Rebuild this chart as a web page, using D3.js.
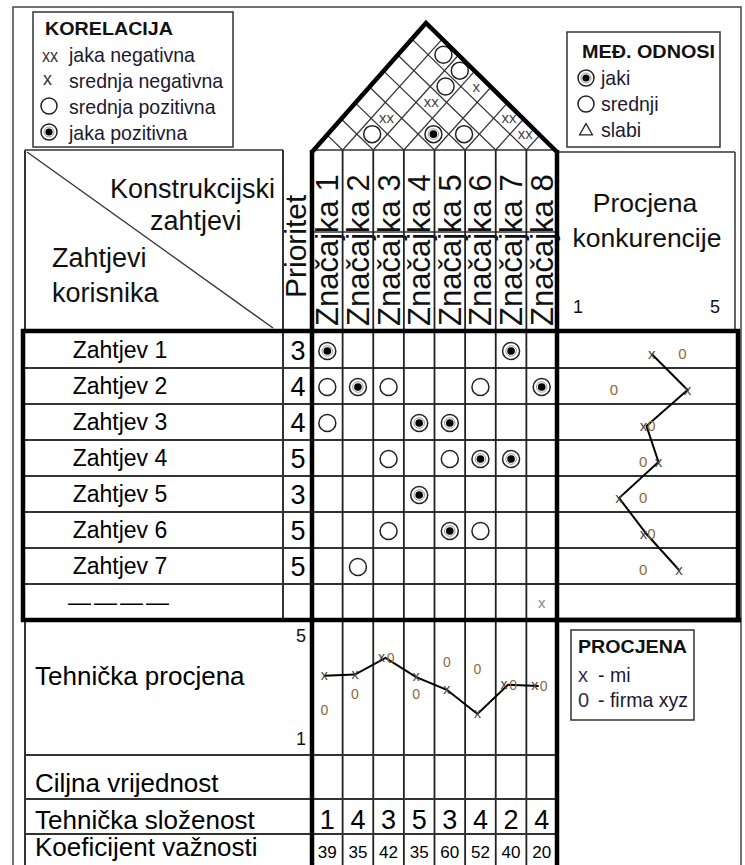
<!DOCTYPE html>
<html lang="hr">
<head>
<meta charset="UTF-8">
<title>Kuća kvalitete</title>
<script src="https://d3js.org/d3.v7.min.js"></script>
<style>
  body { margin: 0; background: #fff; }
  svg { display: block; font-family: "Liberation Sans", Arial, sans-serif; }
</style>
</head>
<body>
<svg id="hoq" width="745" height="865"></svg>
<script>
const features = ["Značajka 1", "Značajka 2", "Značajka 3", "Značajka 4",
                  "Značajka 5", "Značajka 6", "Značajka 7", "Značajka 8"];
const requirements = ["Zahtjev 1", "Zahtjev 2", "Zahtjev 3", "Zahtjev 4",
                      "Zahtjev 5", "Zahtjev 6", "Zahtjev 7", "————"];
const priorities = [3, 4, 4, 5, 3, 5, 5, null];

// [requirement, feature, strength]
const relations = [
  [0, 0, "jaki"], [0, 6, "jaki"],
  [1, 0, "srednji"], [1, 1, "jaki"], [1, 2, "srednji"], [1, 5, "srednji"], [1, 7, "jaki"],
  [2, 0, "srednji"], [2, 3, "jaki"], [2, 4, "jaki"],
  [3, 2, "srednji"], [3, 4, "srednji"], [3, 5, "jaki"], [3, 6, "jaki"],
  [4, 3, "jaki"],
  [5, 2, "srednji"], [5, 4, "jaki"], [5, 5, "srednji"],
  [6, 1, "srednji"],
  [7, 7, "x"]
];

// roof: [feature a, feature b, correlation]
const correlations = [
  [1, 7, "srednja pozitivna"], [2, 7, "srednja pozitivna"], [3, 7, "srednja negativna"],
  [2, 6, "srednja pozitivna"], [2, 5, "jaka negativna"], [1, 3, "jaka negativna"],
  [5, 7, "jaka negativna"], [6, 7, "jaka negativna"], [1, 2, "srednja pozitivna"],
  [3, 4, "jaka pozitivna"], [4, 5, "srednja pozitivna"]
];

// competitive assessment per requirement (1..5)
const compMi  = [3.15, 4.2, 3.0, 3.35, 2.2, 3.0, 3.95];
const compXyz = [4.05, 2.05, 3.0, 2.9, 2.9, 3.0, 2.9];

// technical assessment per feature (1..5)
const techMi  = [3.4, 3.45, 4.1, 3.35, 2.85, 1.9, 3.05, 3.0];
const techXyz = [2.05, 2.7, 4.1, 2.7, 3.95, 3.65, 3.05, 3.0];

const complexity = [1, 4, 3, 5, 3, 4, 2, 4];
const importance = [39, 35, 42, 35, 60, 52, 40, 20];

const corrLegend = [["xx", "jaka negativna"], ["x", "srednja negativna"],
                    ["o", "srednja pozitivna"], ["oo", "jaka pozitivna"]];
const relLegend = [["jaki", "jaki"], ["srednji", "srednji"], ["slabi", "slabi"]];
const bottomRows = ["Tehnička procjena", "Ciljna vrijednost", "Tehnička složenost", "Koeficijent važnosti"];

const svg = d3.select("#hoq");

const x = d3.scaleBand().domain(d3.range(features.length)).range([312, 557]);
const y = d3.scaleBand().domain(d3.range(requirements.length)).range([332, 620]);
const compX = d3.scaleLinear().domain([1, 5]).range([578, 715]);
const techY = d3.scaleLinear().domain([1, 5]).range([737, 635]);
const cx = i => x(i) + x.bandwidth() / 2;
const cy = i => y(i) + y.bandwidth() / 2;

function line(x1, y1, x2, y2, w, c) {
  svg.append("line").attr("x1", x1).attr("y1", y1).attr("x2", x2).attr("y2", y2)
    .attr("stroke", c || "#222").attr("stroke-width", w || 1.5);
}
function text(tx, ty, s, size, opts) {
  opts = opts || {};
  const t = svg.append("text").attr("x", tx).attr("y", ty)
    .attr("font-size", size).attr("fill", opts.fill || "#111")
    .attr("text-anchor", opts.anchor || "start")
    .attr("font-weight", opts.bold ? "bold" : "normal")
    .text(s);
  if (opts.len) t.attr("textLength", opts.len).attr("lengthAdjust", "spacingAndGlyphs");
  // narrow look of the legend lettering
  if (opts.squeeze) t.attr("textLength", t.node().getComputedTextLength() * opts.squeeze)
    .attr("lengthAdjust", "spacingAndGlyphs");
  return t;
}
function symbol(px, py, kind, r) {
  r = r || 8;
  if (kind === "jaki" || kind === "jaka pozitivna") {
    svg.append("circle").attr("cx", px).attr("cy", py).attr("r", r)
      .attr("fill", "#fff").attr("stroke", "#222").attr("stroke-width", 1.5);
    svg.append("circle").attr("cx", px).attr("cy", py).attr("r", r * 0.62)
      .attr("fill", "none").attr("stroke", "#999").attr("stroke-width", 1);
    svg.append("circle").attr("cx", px).attr("cy", py).attr("r", r * 0.45).attr("fill", "#000");
  } else if (kind === "srednji" || kind === "srednja pozitivna") {
    svg.append("circle").attr("cx", px).attr("cy", py).attr("r", r)
      .attr("fill", "#fff").attr("stroke", "#222").attr("stroke-width", 1.5);
  } else if (kind === "slabi") {
    svg.append("path")
      .attr("d", `M${px},${py - r * 0.8}L${px + r * 0.8},${py + r * 0.6}L${px - r * 0.8},${py + r * 0.6}Z`)
      .attr("fill", "none").attr("stroke", "#222").attr("stroke-width", 1.3);
  } else {
    const s = kind === "jaka negativna" ? "xx" : "x";
    text(px, py + 5, s, 15, { anchor: "middle", fill: kind === "x" ? "#888" : "#444" });
  }
}

// outer frame
svg.append("rect").attr("x", 13).attr("y", 7).attr("width", 728).attr("height", 880)
  .attr("fill", "none").attr("stroke", "#444").attr("stroke-width", 1.5);

// ---- KORELACIJA legend
svg.append("rect").attr("x", 33).attr("y", 12).attr("width", 200).attr("height", 135)
  .attr("fill", "#fff").attr("stroke", "#333").attr("stroke-width", 1.5);
text(45, 35, "KORELACIJA", 19, { bold: true, len: 128 });
corrLegend.forEach(([k, lab], i) => {
  const by = 62 + i * 26;
  if (k === "xx") text(42, by, "xx", 18, { fill: "#333", squeeze: 0.9 });
  else if (k === "x") text(43, by - 3, "x", 18, { fill: "#333" });
  else symbol(49, by - 8, k === "o" ? "srednja pozitivna" : "jaka pozitivna", 8);
  text(69, by, lab, 21, { fill: "#1c1830", squeeze: 0.93 });
});

// ---- MEĐ. ODNOSI legend
svg.append("rect").attr("x", 567).attr("y", 32).attr("width", 153).attr("height", 115)
  .attr("fill", "#fff").attr("stroke", "#333").attr("stroke-width", 1.5);
text(582, 58, "MEĐ. ODNOSI", 19, { bold: true, len: 133 });
relLegend.forEach(([k, lab], i) => {
  const by = 85 + i * 26;
  symbol(586, by - 7, k, 8);
  text(601, by, lab, 21, { fill: "#1c1830", squeeze: 0.93 });
});

// ---- roof
const apex = [426, 23], base = 150;
const L = [x(0), base], R = [x(features.length - 1) + x.bandwidth(), base];
const n = features.length;
const A = [(apex[0] - L[0]) / n, (apex[1] - L[1]) / n];   // up-right
const C = [(R[0] - apex[0]) / n, (R[1] - apex[1]) / n];   // down-right
const P = (p, q) => [L[0] + p * A[0] + q * C[0], L[1] + p * A[1] + q * C[1]];
for (let k = 1; k < n; k++) {
  const a = P(k, k), b = P(n, k), c = P(k, 0);
  line(a[0], a[1], b[0], b[1], 1.2, "#333");
  line(a[0], a[1], c[0], c[1], 1.2, "#333");
}
line(L[0], base, R[0], base, 1.5, "#333");
correlations.forEach(([i, j, kind]) => {
  const pt = P(j + 0.5, i + 0.5);
  symbol(pt[0], pt[1], kind, 8.5);
});
svg.append("path").attr("d", `M${L[0]},${L[1] + 2}L${apex[0]},${apex[1]}L${R[0]},${R[1] + 2}`)
  .attr("fill", "none").attr("stroke", "#000").attr("stroke-width", 4.5);

// ---- header
line(25, 150, 283, 150, 1.5, "#333");
line(25, 150, 25, 332, 2, "#333");
line(27, 152, 273, 328, 1.3, "#333");
text(110, 198, "Konstrukcijski", 27, { len: 165 });
text(150, 230, "zahtjevi", 27);
text(52, 267, "Zahtjevi", 27);
text(52, 302, "korisnika", 27);
line(283, 150, 283, 620, 2, "#333");
text(0, 0, "Prioritet", 30).attr("transform", "translate(306,298) rotate(-90)");

x.domain().forEach(i => {
  text(0, 0, features[i], 31).attr("transform", `translate(${cx(i) + 11},326) rotate(-90)`);
});
line(312, 232, 557, 232, 1.3, "#333");

// right header
line(557, 152, 735, 152, 1.5, "#333");
line(735, 152, 735, 332, 1.5, "#333");
text(645, 212, "Procjena", 26.5, { anchor: "middle" });
text(647, 247, "konkurencije", 26.5, { anchor: "middle" });
text(compX(1), 313, "1", 18, { anchor: "middle" });
text(compX(5), 313, "5", 18, { anchor: "middle" });

// ---- matrix rows
y.domain().forEach(r => {
  if (r > 0) line(25, y(r), 738, y(r), 1.8, "#333");
  text(120, cy(r) + 8, requirements[r], 23, { anchor: "middle", fill: "#000" })
    .attr("letter-spacing", r === requirements.length - 1 ? 3 : 0);
  if (priorities[r] != null) text(298, cy(r) + 10, priorities[r], 27, { anchor: "middle", fill: "#000" });
});

// columns
for (let i = 1; i < n; i++) line(x(i), 150, x(i), 865, 1.8, "#222");

relations.forEach(([r, c, kind]) => symbol(cx(c), cy(r) + 1, kind, 8.5));

// competitive assessment
const compLine = d3.line().x(d => compX(d[0])).y(d => d[1]);
svg.append("path")
  .attr("d", compLine(compMi.map((v, i) => [v, cy(i) + 4])))
  .attr("fill", "none").attr("stroke", "#000").attr("stroke-width", 2);
compMi.forEach((v, i) => {
  const same = Math.abs(v - compXyz[i]) < 0.1;
  text(compX(v) - (same ? 3 : 0), cy(i) + 9, "x", 15, { anchor: "middle", fill: "#444" });
  text(compX(compXyz[i]) + (same ? 5 : 0), cy(i) + 9, "0", 15, { anchor: "middle", fill: "#8a6a3a" });
});

// ---- lower section
bottomRows.forEach((lab, i) => {
  const by = [685, 792, 829, 856][i];
  text(35, by, lab, 26, { fill: "#000" });
});
line(25, 622, 25, 865, 2, "#333");
[755, 799, 834].forEach(h => line(25, h, 557, h, 1.8, "#333"));
text(306, 642, "5", 18, { anchor: "end" });
text(306, 745, "1", 18, { anchor: "end" });

const techLine = d3.line().x(d => d[0]).y(d => techY(d[1]));
svg.append("path")
  .attr("d", techLine(techMi.map((v, i) => [cx(i) - 3, v])))
  .attr("fill", "none").attr("stroke", "#000").attr("stroke-width", 2);
techMi.forEach((v, i) => {
  const same = Math.abs(v - techXyz[i]) < 0.1;
  text(cx(i) - 3 - (same ? 4 : 0), techY(v) + 4, "x", 14, { anchor: "middle", fill: "#444" });
  text(cx(i) - 3 + (same ? 5 : 0), techY(techXyz[i]) + 5, "0", 14, { anchor: "middle", fill: "#8a6a3a" });
});

complexity.forEach((v, i) => text(cx(i), 829, v, 27, { anchor: "middle", fill: "#000" }));
importance.forEach((v, i) => text(cx(i), 858, v, 17, { anchor: "middle", fill: "#000" }));

// PROCJENA legend
svg.append("rect").attr("x", 571).attr("y", 630).attr("width", 123).attr("height", 90)
  .attr("fill", "#fff").attr("stroke", "#333").attr("stroke-width", 1.5);
text(578, 653, "PROCJENA", 19, { bold: true, len: 109 });
text(578, 682, "x", 20, { fill: "#3a2f4a" });
text(598, 682, "- mi", 21, { fill: "#1c1830", squeeze: 0.93 });
text(578, 707, "0", 20, { fill: "#3a2f4a" });
text(598, 707, "- firma xyz", 21, { fill: "#1c1830", squeeze: 0.93 });

// thick borders
line(312, 150, 312, 865, 4.5, "#000");
line(557, 150, 557, 865, 4.5, "#000");
svg.append("rect").attr("x", 23).attr("y", 331).attr("width", 715).attr("height", 289)
  .attr("fill", "none").attr("stroke", "#000").attr("stroke-width", 4.5);
line(557, 620, 741, 620, 4.5, "#000");
</script>
</body>
</html>
